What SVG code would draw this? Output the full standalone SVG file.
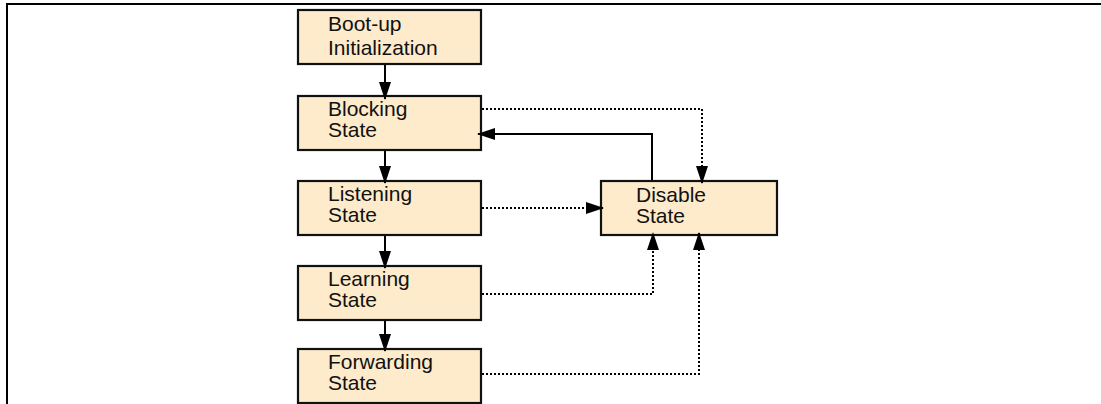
<svg xmlns="http://www.w3.org/2000/svg" width="1101" height="404" viewBox="0 0 1101 404">
  <style>
    .box { fill: #fdebcb; stroke: #111; stroke-width: 2.2; }
    .lbl { font-family: "Liberation Sans", Arial, sans-serif; font-size: 21px; fill: #111; }
    .solid { fill: none; stroke: #000; stroke-width: 2; }
    .dot { fill: none; stroke: #000; stroke-width: 2; stroke-dasharray: 2 2; }
    .frame { fill: none; stroke: #000; stroke-width: 2; }
  </style>
  <defs>
    <marker id="head" viewBox="0 0 18 12" refX="17" refY="6" markerWidth="18" markerHeight="12" markerUnits="userSpaceOnUse" orient="auto">
      <path d="M0,0 L18,6 L0,12 Z" fill="#000"/>
    </marker>
  </defs>

  <!-- page frame -->
  <path class="frame" d="M7,404 V4 H1101"/>

  <!-- state boxes -->
  <g id="bootup">
    <rect class="box" x="298" y="10" width="183" height="54"/>
    <text class="lbl" x="328" y="31">Boot-up</text>
    <text class="lbl" x="328" y="55">Initialization</text>
  </g>
  <g id="blocking">
    <rect class="box" x="298" y="96" width="183" height="54"/>
    <text class="lbl" x="328" y="116">Blocking</text>
    <text class="lbl" x="328" y="137">State</text>
  </g>
  <g id="listening">
    <rect class="box" x="298" y="181" width="183" height="54"/>
    <text class="lbl" x="328" y="201">Listening</text>
    <text class="lbl" x="328" y="222">State</text>
  </g>
  <g id="learning">
    <rect class="box" x="298" y="266" width="183" height="54"/>
    <text class="lbl" x="328" y="286">Learning</text>
    <text class="lbl" x="328" y="307">State</text>
  </g>
  <g id="forwarding">
    <rect class="box" x="298" y="349" width="183" height="54"/>
    <text class="lbl" x="328" y="369">Forwarding</text>
    <text class="lbl" x="328" y="390">State</text>
  </g>
  <g id="disable">
    <rect class="box" x="601" y="181" width="176" height="54"/>
    <text class="lbl" x="636" y="202">Disable</text>
    <text class="lbl" x="636" y="223">State</text>
  </g>

  <!-- transitions -->
  <g id="connectors">
    <path class="solid" d="M385,65 V99" marker-end="url(#head)"/>
    <path class="solid" d="M385,151 V183" marker-end="url(#head)"/>
    <path class="solid" d="M385,236 V268" marker-end="url(#head)"/>
    <path class="solid" d="M385,321 V351" marker-end="url(#head)"/>
    <path class="solid" d="M652,180 V134 H478" marker-end="url(#head)"/>
    <path class="dot" d="M482,109 H702 V183" marker-end="url(#head)"/>
    <path class="dot" d="M482,208 H603" marker-end="url(#head)"/>
    <path class="dot" d="M482,294 H653 V233" marker-end="url(#head)"/>
    <path class="dot" d="M482,374 H699 V233" marker-end="url(#head)"/>
  </g>
</svg>
